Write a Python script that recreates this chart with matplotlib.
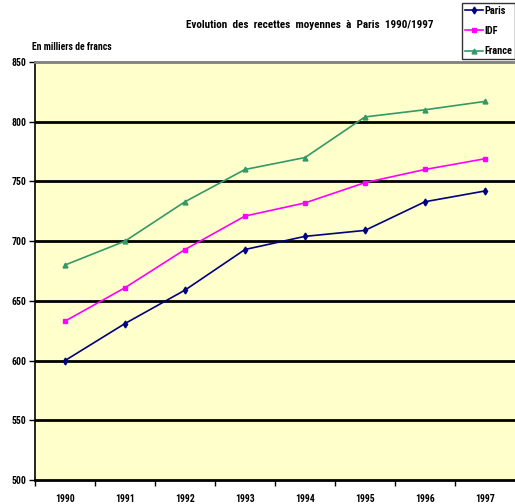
import matplotlib.pyplot as plt
from matplotlib import font_manager

# data
years = ['1990', '1991', '1992', '1993', '1994', '1995', '1996', '1997']
paris = [600, 631, 659, 693, 704, 709, 733, 742]
idf = [633, 661, 693, 721, 732, 749, 760, 769]
france = [680, 700, 733, 760, 770, 804, 810, 817]

# a narrow font if one is around, otherwise DejaVu
names = {f.name for f in font_manager.fontManager.ttflist}
fam = 'DejaVu Sans'
for cand in ['Liberation Sans Narrow', 'Roboto Condensed', 'Archivo Narrow', 'PT Sans Narrow',
             'Pathway Gothic One', 'Open Sans Condensed', 'Encode Sans Condensed', 'Oswald']:
    if cand in names:
        fam = cand
        break
plt.rcParams['font.family'] = [fam, 'DejaVu Sans']
plt.rcParams['font.weight'] = 'bold'
small = fam == 'DejaVu Sans'

fig = plt.figure(figsize=(5.15, 5.04), dpi=100)
ax = fig.add_axes([35 / 515, 24 / 504, 480 / 515, 418 / 504])
ax.set_facecolor('#FFFFCC')

x = range(len(years))
ax.plot(x, paris, color='#000080', marker='d', markersize=3.5, lw=1.2, label='Paris')
ax.plot(x, idf, color='#FF00FF', marker='s', markersize=3.5, lw=1.2, label='IDF')
ax.plot(x, france, color='#339966', marker='^', markersize=3.5, lw=1.2, label='France')

ax.set_xlim(-0.5, len(years) - 0.5)
ax.set_ylim(500, 850)
ax.set_yticks(range(500, 851, 50))
ax.set_xticks([i - 0.5 for i in range(len(years))], minor=False)
ax.set_xticklabels([])
ax.set_xticks(list(x), minor=True)
ax.set_xticklabels(years, minor=True, fontsize=7)
ax.tick_params(axis='x', which='minor', length=0, pad=10)
ax.tick_params(axis='x', which='major', length=4, width=1, direction='out')
ax.tick_params(axis='y', length=4, width=1, labelsize=7, pad=2)

for v in range(550, 850, 50):
    ax.axhline(v, color='black', lw=2, zorder=1)

ax.spines['top'].set_color('#808080')
ax.spines['top'].set_linewidth(2)
ax.spines['right'].set_visible(False)
ax.spines['left'].set_linewidth(1.2)
ax.spines['bottom'].set_linewidth(2)

fig.text(310 / 515, 1 - 25 / 504, 'Evolution  des  recettes  moyennes  à  Paris  1990/1997',
         ha='center', va='center', fontsize=6 if small else 8)
fig.text(32 / 515, 1 - 47 / 504, 'En milliers de francs', ha='left', va='center',
         fontsize=5.5 if small else 7)

leg = fig.legend(loc='upper right', bbox_to_anchor=(1.0, 1 - 3 / 504),
                 fontsize=5.5 if small else 7.5,
                 frameon=True, fancybox=False, edgecolor='black', handlelength=1.8,
                 handletextpad=0.1, borderpad=0.25, labelspacing=1.0, borderaxespad=0)
leg.get_frame().set_linewidth(1)

fig.savefig('out.png', dpi=100)
